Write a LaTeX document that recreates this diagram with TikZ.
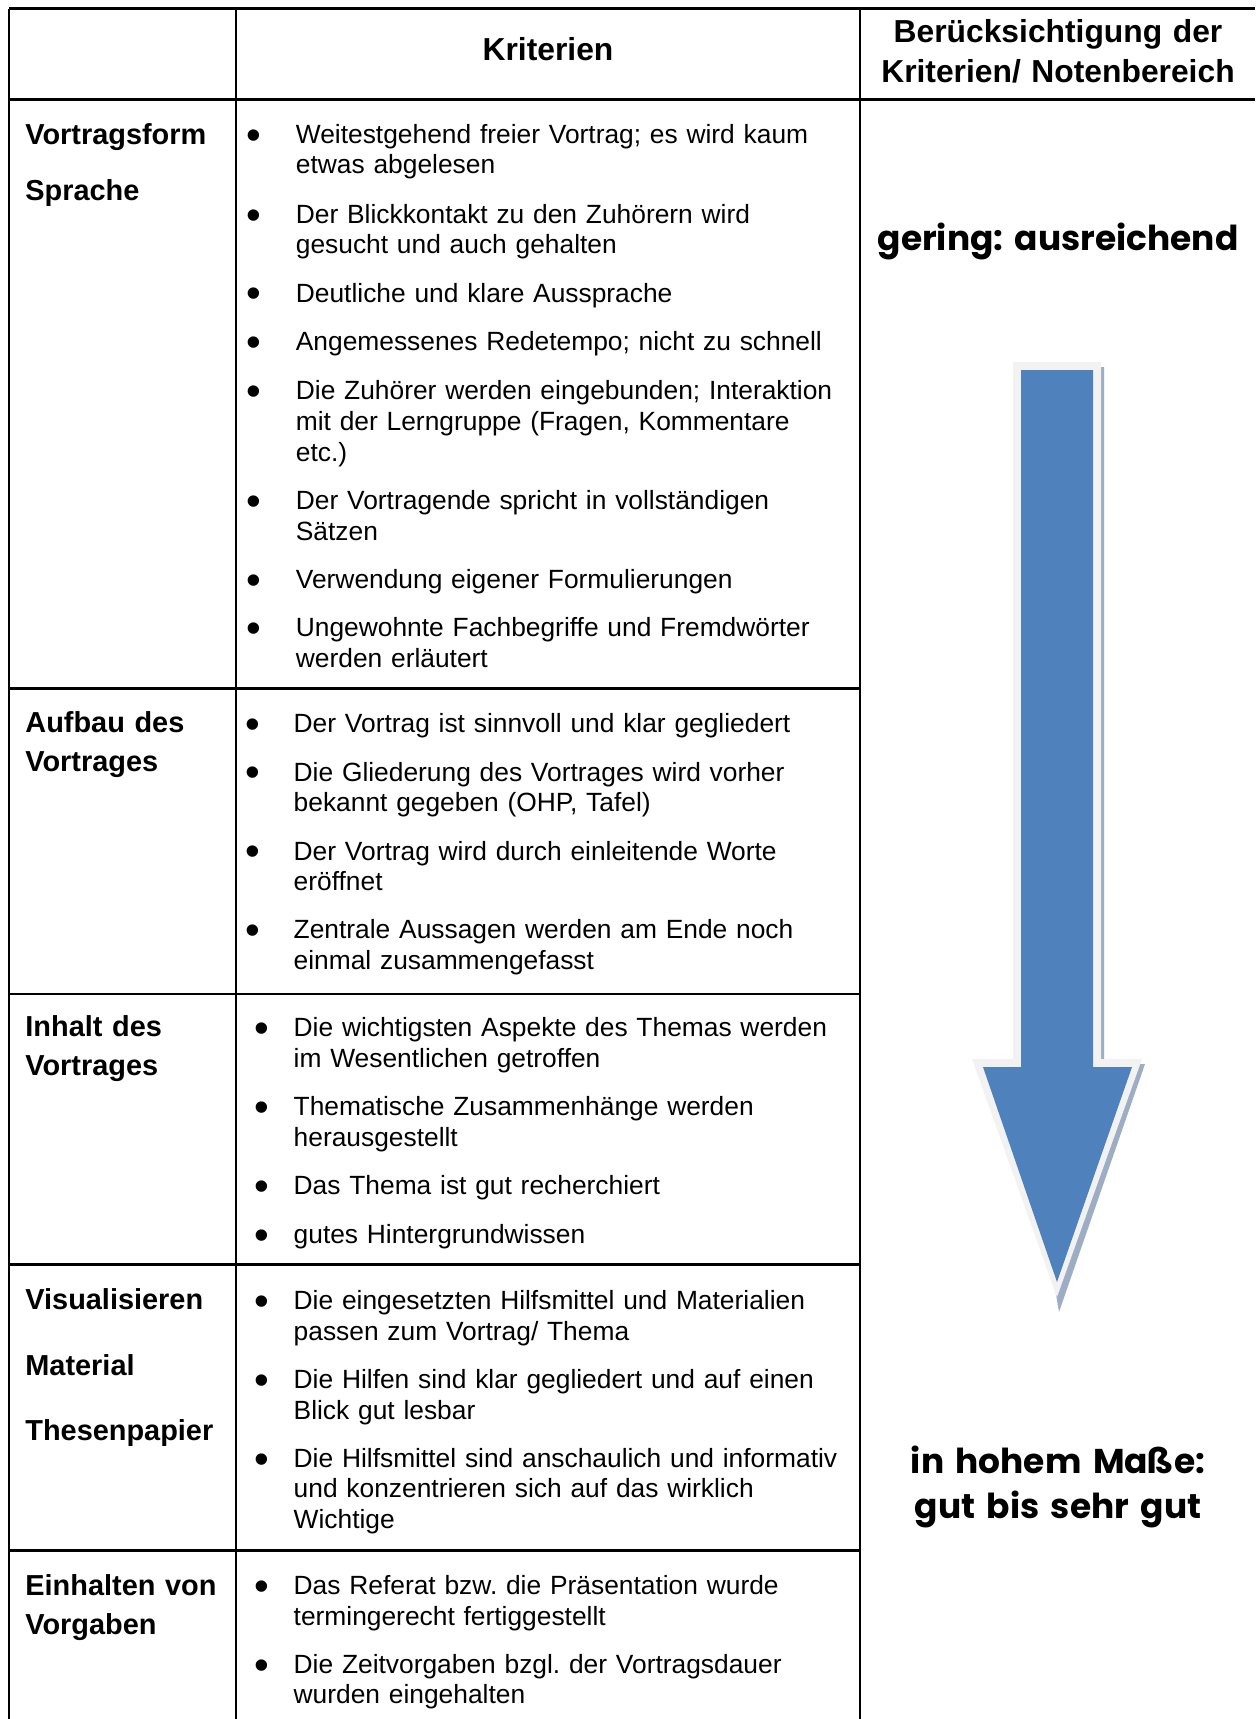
\documentclass[tikz,border=0pt]{standalone}
\usepackage{fontspec}
\setmainfont{Liberation Sans}
\newfontfamily\geofont{Poppins}
\definecolor{arrowblue}{HTML}{4F81BD}
\definecolor{arrowrim}{HTML}{F2F2F2}
\definecolor{arrowshadow}{HTML}{9DADC4}
\frenchspacing
\tikzset{
  grid/.style={line width=1.3pt, black},
  item/.style={anchor=base west, inner sep=0pt, text width=300pt, align=left,
    font=\fontsize{13.18pt}{15.35pt}\selectfont},
  bul/.style={anchor=base, inner sep=0pt, font=\fontsize{21pt}{21pt}\selectfont},
  lab/.style={anchor=base west, inner sep=0pt, text width=110pt, align=left,
    font=\fontsize{14.45pt}{19.7pt}\selectfont\bfseries},
  head/.style={anchor=base, inner sep=0pt, text width=200pt, align=center,
    font=\fontsize{15.9pt}{20.2pt}\selectfont\bfseries},
  grade/.style={anchor=base, inner sep=0pt, text width=200pt, align=center,
    font=\geofont\bfseries\fontsize{17.2pt}{22.5pt}\selectfont}
}
\begin{document}
\begin{tikzpicture}[x=0.5pt,y=-0.5pt]
\useasboundingbox (0,0) rectangle (1255,1719);
\fill[white] (0,0) rectangle (1255,1719);

% grid
\draw[grid] (9,8.5) -- (1255,8.5);
\draw[grid] (9,99.5) -- (1255,99.5);
\draw[grid] (9,8.5) -- (9,1719);
\draw[grid] (236,8.5) -- (236,1719);
\draw[grid] (860,8.5) -- (860,1719);
\draw[grid] (9,688.5) -- (860,688.5);
\draw[grid] (9,994) -- (860,994);
\draw[grid] (9,1264.5) -- (860,1264.5);
\draw[grid] (9,1550.5) -- (860,1550.5);

% header
\node[head] (hk) at (548,60) {Kriterien};
\node[head] (hb) at (1058,42) {Berücksichtigung der\\Kriterien/ Notenbereich};

% row labels
\node[lab] (l1a) at (25,144.7) {Vortragsform};
\node[lab] (l1b) at (25,200) {Sprache};
\node[lab] (l2) at (25,732.5) {Aufbau des\\Vortrages};
\node[lab] (l3) at (25,1036) {Inhalt des\\Vortrages};
\node[lab] (l4a) at (25,1309.3) {Visualisieren};
\node[lab] (l4b) at (25,1375) {Material};
\node[lab] (l4c) at (25,1440.5) {Thesenpapier};
\node[lab] (l5) at (25,1595) {Einhalten von\\Vorgaben};

% row 1 items
\foreach \y [count=\i] in {143.2,223.2,302.1,350.4,399.7,509.3,588.2,636.4}
  \node[bul] (b1-\i) at (254,\y+5.8) {•};
\node[item] (i11) at (295.5,143.2) {Weitestgehend freier Vortrag; es wird kaum\\etwas abgelesen};
\node[item] (i12) at (295.5,223.2) {Der Blickkontakt zu den Zuhörern wird\\gesucht und auch gehalten};
\node[item] (i13) at (295.5,302.1) {Deutliche und klare Aussprache};
\node[item] (i14) at (295.5,350.4) {Angemessenes Redetempo; nicht zu schnell};
\node[item] (i15) at (295.5,399.7) {Die Zuhörer werden eingebunden; Interaktion\\mit der Lerngruppe (Fragen, Kommentare\\etc.)};
\node[item] (i16) at (295.5,509.3) {Der Vortragende spricht in vollständigen\\Sätzen};
\node[item] (i17) at (295.5,588.2) {Verwendung eigener Formulierungen};
\node[item] (i18) at (295.5,636.4) {Ungewohnte Fachbegriffe und Fremdwörter\\werden erläutert};

% row 2 items
\foreach \y [count=\i] in {732.9,781.1,860,938.9}
  \node[bul] (b2-\i) at (253,\y+5.8) {•};
\node[item] (i21) at (293.3,732.9) {Der Vortrag ist sinnvoll und klar gegliedert};
\node[item] (i22) at (293.3,781.1) {Die Gliederung des Vortrages wird vorher\\bekannt gegeben (OHP, Tafel)};
\node[item] (i23) at (293.3,860) {Der Vortrag wird durch einleitende Worte\\eröffnet};
\node[item] (i24) at (293.3,938.9) {Zentrale Aussagen werden am Ende noch\\einmal zusammengefasst};

% row 3 items
\foreach \y [count=\i] in {1036.5,1115.4,1194.3,1243.6}
  \node[bul] (b3-\i) at (262,\y+5.8) {•};
\node[item] (i31) at (293.3,1036.5) {Die wichtigsten Aspekte des Themas werden\\im Wesentlichen getroffen};
\node[item] (i32) at (293.3,1115.4) {Thematische Zusammenhänge werden\\herausgestellt};
\node[item] (i33) at (293.3,1194.3) {Das Thema ist gut recherchiert};
\node[item] (i34) at (293.3,1243.6) {gutes Hintergrundwissen};

% row 4 items
\foreach \y [count=\i] in {1309.4,1388.3,1467.2}
  \node[bul] (b4-\i) at (262,\y+5.8) {•};
\node[item] (i41) at (293.3,1309.4) {Die eingesetzten Hilfsmittel und Materialien\\passen zum Vortrag/ Thema};
\node[item] (i42) at (293.3,1388.3) {Die Hilfen sind klar gegliedert und auf einen\\Blick gut lesbar};
\node[item] (i43) at (293.3,1467.2) {Die Hilfsmittel sind anschaulich und informativ\\und konzentrieren sich auf das wirklich\\Wichtige};

% row 5 items
\foreach \y [count=\i] in {1594.3,1673.2}
  \node[bul] (b5-\i) at (262,\y+5.8) {•};
\node[item] (i51) at (293.3,1594.3) {Das Referat bzw. die Präsentation wurde\\termingerecht fertiggestellt};
\node[item] (i52) at (293.3,1673.2) {Die Zeitvorgaben bzgl. der Vortragsdauer\\wurden eingehalten};

% arrow
\fill[arrowshadow] (1040,367) -- (1104,367) -- (1104,1064) -- (1145,1064) -- (1059,1312) -- (1040,1200) -- cycle;
\fill[arrowrim] (1013,362) -- (1101,362) -- (1101,1059) -- (1142,1059) -- (1057,1297) -- (972,1059) -- (1013,1059) -- cycle;
\fill[arrowblue] (1021,370) -- (1093,370) -- (1093,1067) -- (1132,1067) -- (1057,1282) -- (983,1067) -- (1021,1067) -- cycle;

% grade texts
\node[grade] (gtop) at (1058,250) {gering: ausreichend};
\node[grade] (gbot) at (1058,1473) {in hohem Maße:\\gut bis sehr gut};
\end{tikzpicture}
\end{document}
